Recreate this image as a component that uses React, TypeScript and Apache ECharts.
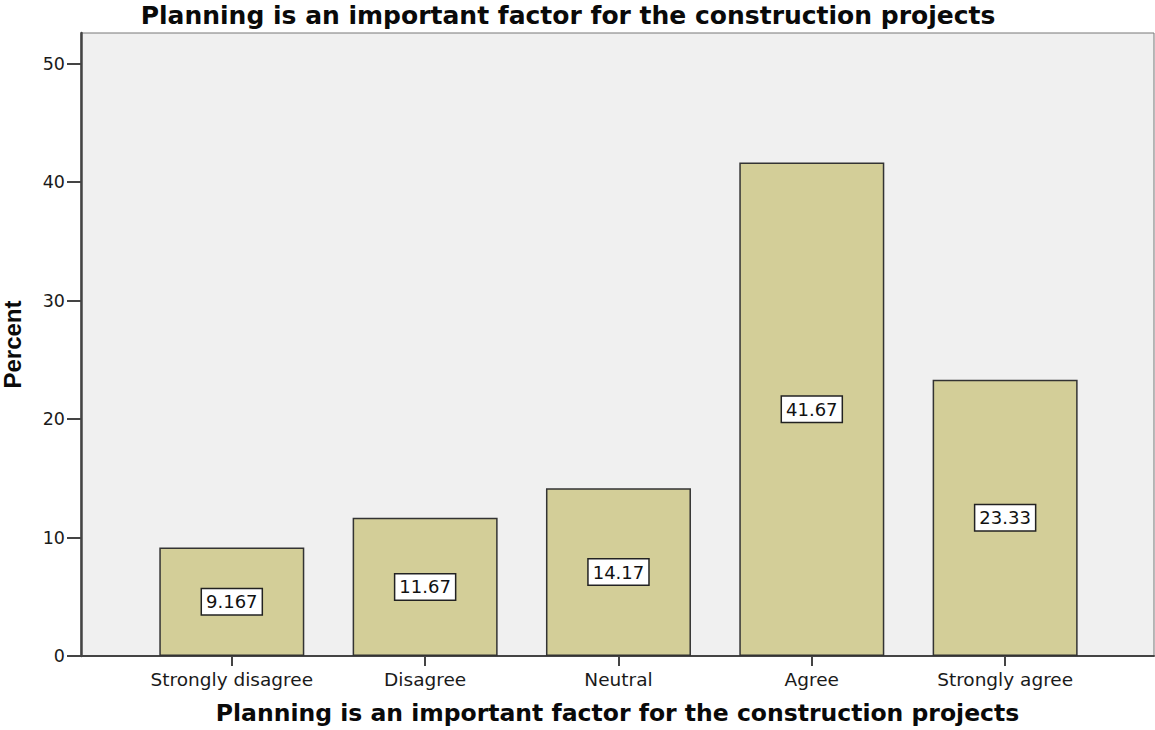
import React, { useEffect, useRef } from "react";
import * as echarts from "echarts";

const categories = ["Strongly disagree", "Disagree", "Neutral", "Agree", "Strongly agree"];
const percents = [9.167, 11.67, 14.17, 41.67, 23.33];
const yTicks = [0, 10, 20, 30, 40, 50];
const titleText = "Planning is an important factor for the construction projects";
const yName = "Percent";

export default function App() {
  const ref = useRef<HTMLDivElement>(null);
  useEffect(() => {
    if (!ref.current) return;
    const chart = echarts.init(ref.current, null, { renderer: "svg" });
    const xIdx = categories.map((_, i) => i);
    chart.setOption({
      animation: false,
      backgroundColor: "#ffffff",
      title: {
        text: titleText,
        left: 568,
        textAlign: "center",
        top: 3,
        padding: 0,
        textStyle: { fontFamily: "DejaVu Sans", fontWeight: "bold", fontSize: 25, color: "#0a0a0a" },
      },
      grid: {
        left: 81,
        right: 1,
        top: 33,
        bottom: 74,
        show: true,
        backgroundColor: "#f0f0f0",
        borderColor: "#777",
        borderWidth: 1,
        containLabel: false,
        outerBoundsMode: "none",
      },
      xAxis: {
        type: "value",
        min: -0.78,
        max: 4.77,
        name: titleText,
        nameLocation: "middle",
        nameGap: 45,
        nameTextStyle: { fontFamily: "DejaVu Sans", fontWeight: "bold", fontSize: 23.5, color: "#0a0a0a" },
        splitLine: { show: false },
        axisLine: { show: true, lineStyle: { color: "#444", width: 2 } },
        axisTick: { show: true, customValues: xIdx, length: 10, lineStyle: { color: "#444", width: 2 } },
        axisLabel: {
          customValues: xIdx,
          formatter: (v: number) => categories[Math.round(v)] ?? "",
          fontFamily: "DejaVu Sans",
          fontSize: 18.5,
          color: "#1a1a1a",
          margin: 14,
        },
      },
      yAxis: {
        type: "value",
        min: 0,
        max: 52.6,
        name: yName,
        nameLocation: "middle",
        nameGap: 57,
        nameRotate: 90,
        nameTextStyle: { fontFamily: "Liberation Sans", fontWeight: "bold", fontSize: 24, color: "#0a0a0a" },
        splitLine: { show: false },
        axisLine: { show: true, onZero: false, lineStyle: { color: "#444", width: 2.5 } },
        axisTick: { show: true, customValues: yTicks, length: 14, lineStyle: { color: "#444", width: 2 } },
        axisLabel: {
          customValues: yTicks,
          fontFamily: "DejaVu Sans",
          fontSize: 17.5,
          color: "#1a1a1a",
          margin: 16,
        },
      },
      series: [
        {
          type: "bar",
          data: percents.map((v, i) => [i, v]),
          barWidth: 145,
          itemStyle: { color: "#d3ce98", borderColor: "#333", borderWidth: 1.5 },
          label: {
            show: true,
            position: "inside",
            formatter: (p: any) => String(p.value[1]),
            fontFamily: "DejaVu Sans",
            fontSize: 18,
            color: "#111",
            backgroundColor: "#ffffff",
            borderColor: "#222",
            borderWidth: 1.5,
            padding: [4, 4, 3, 4],
          },
        },
      ],
    });
    return () => chart.dispose();
  }, []);
  return (
    <div
      ref={ref}
      style={{ position: "fixed", left: 0, top: 0, width: 1155, height: 730 }}
    />
  );
}
